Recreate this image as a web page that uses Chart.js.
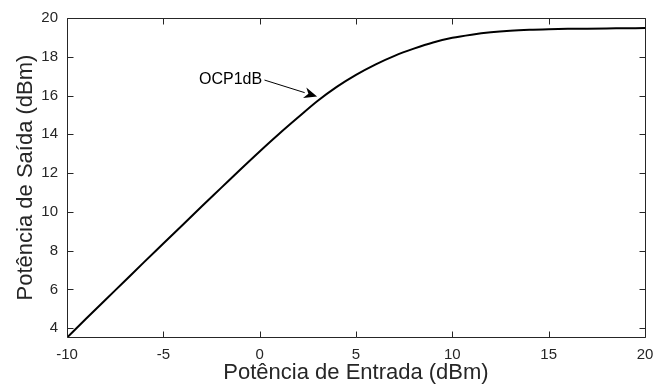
<!DOCTYPE html>
<html>
<head>
<meta charset="utf-8">
<script src="https://cdn.jsdelivr.net/npm/chart.js@4.4.0/dist/chart.umd.min.js"></script>
<style>
html,body{margin:0;padding:0;background:#fff;}
#wrap{width:667px;height:390px;position:relative;}
</style>
</head>
<body>
<div id="wrap"><canvas id="c" width="667" height="390"></canvas></div>
<script>
// Data
const inputPower = [-10,-9,-8,-7,-6,-5,-4,-3,-2,-1,0,1,2,3,4,5,6,7,8,9,10,11,12,13,14,15,16,17,18,19,20];
const outputPower = [3.52,4.5,5.47,6.44,7.41,8.37,9.33,10.29,11.24,12.19,13.12,14.02,14.88,15.72,16.45,17.07,17.6,18.05,18.42,18.74,18.98,19.14,19.26,19.34,19.39,19.42,19.44,19.45,19.46,19.47,19.48];
const xTicks = [-10,-5,0,5,10,15,20];
const yTicks = [4,6,8,10,12,14,16,18,20];
const xLabel = 'Potência de Entrada (dBm)';
const yLabel = 'Potência de Saída (dBm)';
const annotationText = 'OCP1dB';
const annotationTextPos = [0.13, 16.84];
const arrowStart = [0.25, 16.8];
const arrowTip = [2.98, 15.95];

const AXIS = '#262626';
const FONT = "'Liberation Sans', Arial, Helvetica, sans-serif";

const boxPlugin = {
  id: 'box',
  afterDatasetsDraw(chart) {
    const {ctx, chartArea: a, scales: {x, y}} = chart;
    ctx.save();
    ctx.strokeStyle = AXIS;
    ctx.lineWidth = 1;
    const L = Math.round(a.left)+0.5, R = Math.round(a.right)+0.5, T = Math.round(a.top)+0.5, B = Math.round(a.bottom)+0.5;
    ctx.beginPath();
    ctx.rect(L, T, R-L, B-T);
    ctx.stroke();
    const tl = 6;
    ctx.beginPath();
    xTicks.forEach(v => {
      const px = Math.round(x.getPixelForValue(v))+0.5;
      ctx.moveTo(px, B); ctx.lineTo(px, B-tl);
      ctx.moveTo(px, T); ctx.lineTo(px, T+tl);
    });
    yTicks.forEach(v => {
      const py = Math.round(y.getPixelForValue(v))+0.5;
      ctx.moveTo(L, py); ctx.lineTo(L+tl, py);
      ctx.moveTo(R, py); ctx.lineTo(R-tl, py);
    });
    ctx.stroke();

    // annotation
    ctx.fillStyle = '#000';
    ctx.font = '16px ' + FONT;
    ctx.textAlign = 'right';
    ctx.textBaseline = 'middle';
    ctx.fillText(annotationText, x.getPixelForValue(annotationTextPos[0]), y.getPixelForValue(annotationTextPos[1]));
    const sx = x.getPixelForValue(arrowStart[0]), sy = y.getPixelForValue(arrowStart[1]);
    const ex = x.getPixelForValue(arrowTip[0]), ey = y.getPixelForValue(arrowTip[1]);
    const ang = Math.atan2(ey-sy, ex-sx);
    const hl = 13, hw = 5.5;
    const bx = ex - hl*Math.cos(ang), by = ey - hl*Math.sin(ang);
    ctx.strokeStyle = '#000';
    ctx.lineWidth = 1;
    ctx.beginPath();
    ctx.moveTo(sx, sy); ctx.lineTo(bx, by);
    ctx.stroke();
    ctx.beginPath();
    ctx.moveTo(ex, ey);
    ctx.lineTo(bx + hw*Math.sin(ang), by - hw*Math.cos(ang));
    ctx.lineTo(ex - 0.7*hl*Math.cos(ang), ey - 0.7*hl*Math.sin(ang));
    ctx.lineTo(bx - hw*Math.sin(ang), by + hw*Math.cos(ang));
    ctx.closePath();
    ctx.fill();
    ctx.restore();
  }
};

new Chart(document.getElementById('c'), {
  type: 'line',
  data: {
    datasets: [{
      data: inputPower.map((v, i) => ({x: v, y: outputPower[i]})),
      borderColor: '#000',
      borderWidth: 2,
      pointRadius: 0,
      cubicInterpolationMode: 'monotone',
      fill: false
    }]
  },
  options: {
    responsive: false,
    animation: false,
    devicePixelRatio: 1,
    layout: {padding: {top: 17, right: 22, left: 0, bottom: 0}},
    plugins: {legend: {display: false}, tooltip: {enabled: false}},
    scales: {
      x: {
        type: 'linear',
        min: -10, max: 20,
        grid: {display: false, drawTicks: false, tickLength: 0},
        border: {display: false},
        afterBuildTicks: s => { s.ticks = xTicks.map(v => ({value: v})); },
        afterFit: s => { s.height = 53; },
        ticks: {color: AXIS, font: {family: FONT, size: 15}, padding: 9, maxRotation: 0},
        title: {display: true, text: xLabel, color: AXIS, font: {family: FONT, size: 22, lineHeight: 1}, padding: {top: 0, bottom: 6}}
      },
      y: {
        min: 3.55, max: 20,
        grid: {display: false, drawTicks: false, tickLength: 0},
        border: {display: false},
        afterBuildTicks: s => { s.ticks = yTicks.map(v => ({value: v})); },
        afterFit: s => { s.width = 67; },
        ticks: {color: AXIS, font: {family: FONT, size: 15}, padding: 9},
        title: {display: true, text: yLabel, color: AXIS, font: {family: FONT, size: 22, lineHeight: 1}, padding: {top: 15, bottom: 0}}
      }
    }
  },
  plugins: [boxPlugin]
});
</script>
</body>
</html>
